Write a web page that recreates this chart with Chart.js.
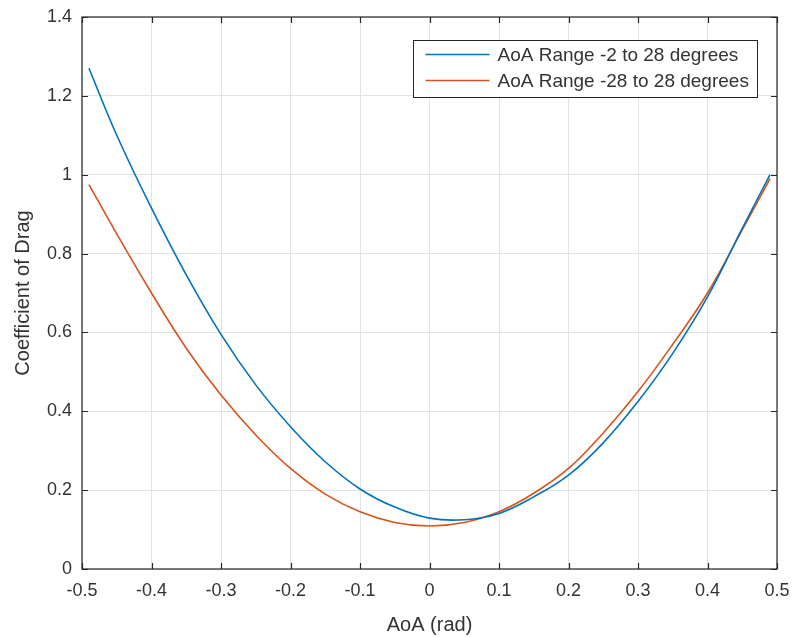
<!DOCTYPE html>
<html>
<head>
<meta charset="utf-8">
<script src="https://cdn.jsdelivr.net/npm/chart.js@4"></script>
<style>
  body { margin: 0; background: #fff; }
  #wrap { width: 796px; height: 637px; }
</style>
</head>
<body>
<div id="wrap"><canvas id="dragChart" width="796" height="637"></canvas></div>
<script>
const aoa = [-0.49, -0.45, -0.4, -0.35, -0.3, -0.25, -0.2, -0.15, -0.1, -0.05, 0,
             0.05, 0.1, 0.15, 0.2, 0.25, 0.3, 0.35, 0.4, 0.45, 0.49];
const cdRange2to28 = [1.27, 1.10, 0.915, 0.746, 0.595, 0.467, 0.361, 0.272, 0.203, 0.157, 0.129,
                      0.125, 0.141, 0.183, 0.238, 0.32, 0.425, 0.547, 0.69, 0.864, 1.0];
const cdRange28to28 = [0.975, 0.85, 0.70, 0.56, 0.441, 0.34, 0.255, 0.19, 0.145, 0.118, 0.109,
                       0.118, 0.145, 0.192, 0.255, 0.345, 0.45, 0.57, 0.70, 0.86, 0.99];
const seriesNames = ["AoA Range -2 to 28 degrees", "AoA Range -28 to 28 degrees"];
const xTicks = [-0.5, -0.4, -0.3, -0.2, -0.1, 0, 0.1, 0.2, 0.3, 0.4, 0.5];
const yTicks = [0, 0.2, 0.4, 0.6, 0.8, 1, 1.2, 1.4];

const FONT = "'Liberation Sans', Arial, Helvetica, sans-serif";
const TEXT = "#333";

function pts(ys) {
  return aoa.map((x, i) => ({ x, y: ys[i] }));
}

// box round the axes with inward ticks, MATLAB style
const axesBox = {
  id: "axesBox",
  afterDatasetsDraw(chart) {
    const { ctx, chartArea: a, scales } = chart;
    ctx.save();
    ctx.strokeStyle = "#262626";
    ctx.lineWidth = 1.2;
    ctx.strokeRect(a.left, a.top, a.right - a.left, a.bottom - a.top);
    ctx.beginPath();
    const t = 6;
    for (const v of xTicks) {
      const px = Math.round(scales.x.getPixelForValue(v)) + 0.5;
      ctx.moveTo(px, a.bottom); ctx.lineTo(px, a.bottom - t);
      ctx.moveTo(px, a.top); ctx.lineTo(px, a.top + t);
    }
    for (const v of yTicks) {
      const py = Math.round(scales.y.getPixelForValue(v)) + 0.5;
      ctx.moveTo(a.left, py); ctx.lineTo(a.left + t, py);
      ctx.moveTo(a.right, py); ctx.lineTo(a.right - t, py);
    }
    ctx.stroke();
    ctx.restore();
  }
};

// legend box inside the top right corner
const insideLegend = {
  id: "insideLegend",
  afterDraw(chart) {
    const { ctx, chartArea: a } = chart;
    const w = 344, h = 57;
    const x0 = a.right - 20 - w + 0.5, y0 = a.top + 23 + 0.5;
    ctx.save();
    ctx.fillStyle = "#fff";
    ctx.fillRect(x0, y0, w, h);
    ctx.strokeStyle = "#262626";
    ctx.lineWidth = 1;
    ctx.strokeRect(x0, y0, w, h);
    ctx.font = "19px " + FONT;
    ctx.textBaseline = "middle";
    chart.data.datasets.forEach((ds, i) => {
      const y = y0 + 14 + i * 26;
      ctx.strokeStyle = ds.borderColor;
      ctx.lineWidth = 1.5;
      ctx.beginPath();
      ctx.moveTo(x0 + 12, y);
      ctx.lineTo(x0 + 76, y);
      ctx.stroke();
      ctx.fillStyle = TEXT;
      ctx.fillText(ds.label, x0 + 84, y + 1);
    });
    ctx.restore();
  }
};

new Chart(document.getElementById("dragChart"), {
  type: "line",
  data: {
    datasets: [
      { label: seriesNames[0], data: pts(cdRange2to28), borderColor: "#0072BD", borderWidth: 1.6, pointRadius: 0, tension: 0.4, fill: false },
      { label: seriesNames[1], data: pts(cdRange28to28), borderColor: "#D95319", borderWidth: 1.6, pointRadius: 0, tension: 0.4, fill: false }
    ]
  },
  options: {
    responsive: false,
    animation: false,
    devicePixelRatio: 1,
    layout: { padding: { top: 17, right: 19, left: 0, bottom: 0 } },
    plugins: { legend: { display: false }, tooltip: { enabled: false } },
    scales: {
      x: {
        type: "linear",
        min: -0.5, max: 0.5,
        afterBuildTicks: s => { s.ticks = xTicks.map(v => ({ value: v })); },
        afterFit: s => { s.height = 68; s.paddingLeft = 0; s.paddingRight = 0; },
        ticks: { callback: v => String(+v.toFixed(1)), color: TEXT, font: { family: FONT, size: 18 }, padding: 11, maxRotation: 0 },
        grid: { color: "#e3e3e3", drawTicks: false },
        border: { display: false },
        title: { display: true, text: "AoA (rad)", color: TEXT, font: { family: FONT, size: 20 }, padding: { top: 10, bottom: 0 } }
      },
      y: {
        min: 0, max: 1.4,
        afterBuildTicks: s => { s.ticks = yTicks.map(v => ({ value: v })); },
        afterFit: s => { s.width = 82; s.paddingTop = 0; s.paddingBottom = 0; },
        ticks: { callback: v => String(+v.toFixed(1)), color: TEXT, font: { family: FONT, size: 18 }, padding: 10 },
        grid: { color: "#e3e3e3", drawTicks: false },
        border: { display: false },
        title: { display: true, text: "Coefficient of Drag", color: TEXT, font: { family: FONT, size: 20 }, padding: { top: 11, bottom: 0 } }
      }
    }
  },
  plugins: [axesBox, insideLegend]
});
</script>
</body>
</html>
